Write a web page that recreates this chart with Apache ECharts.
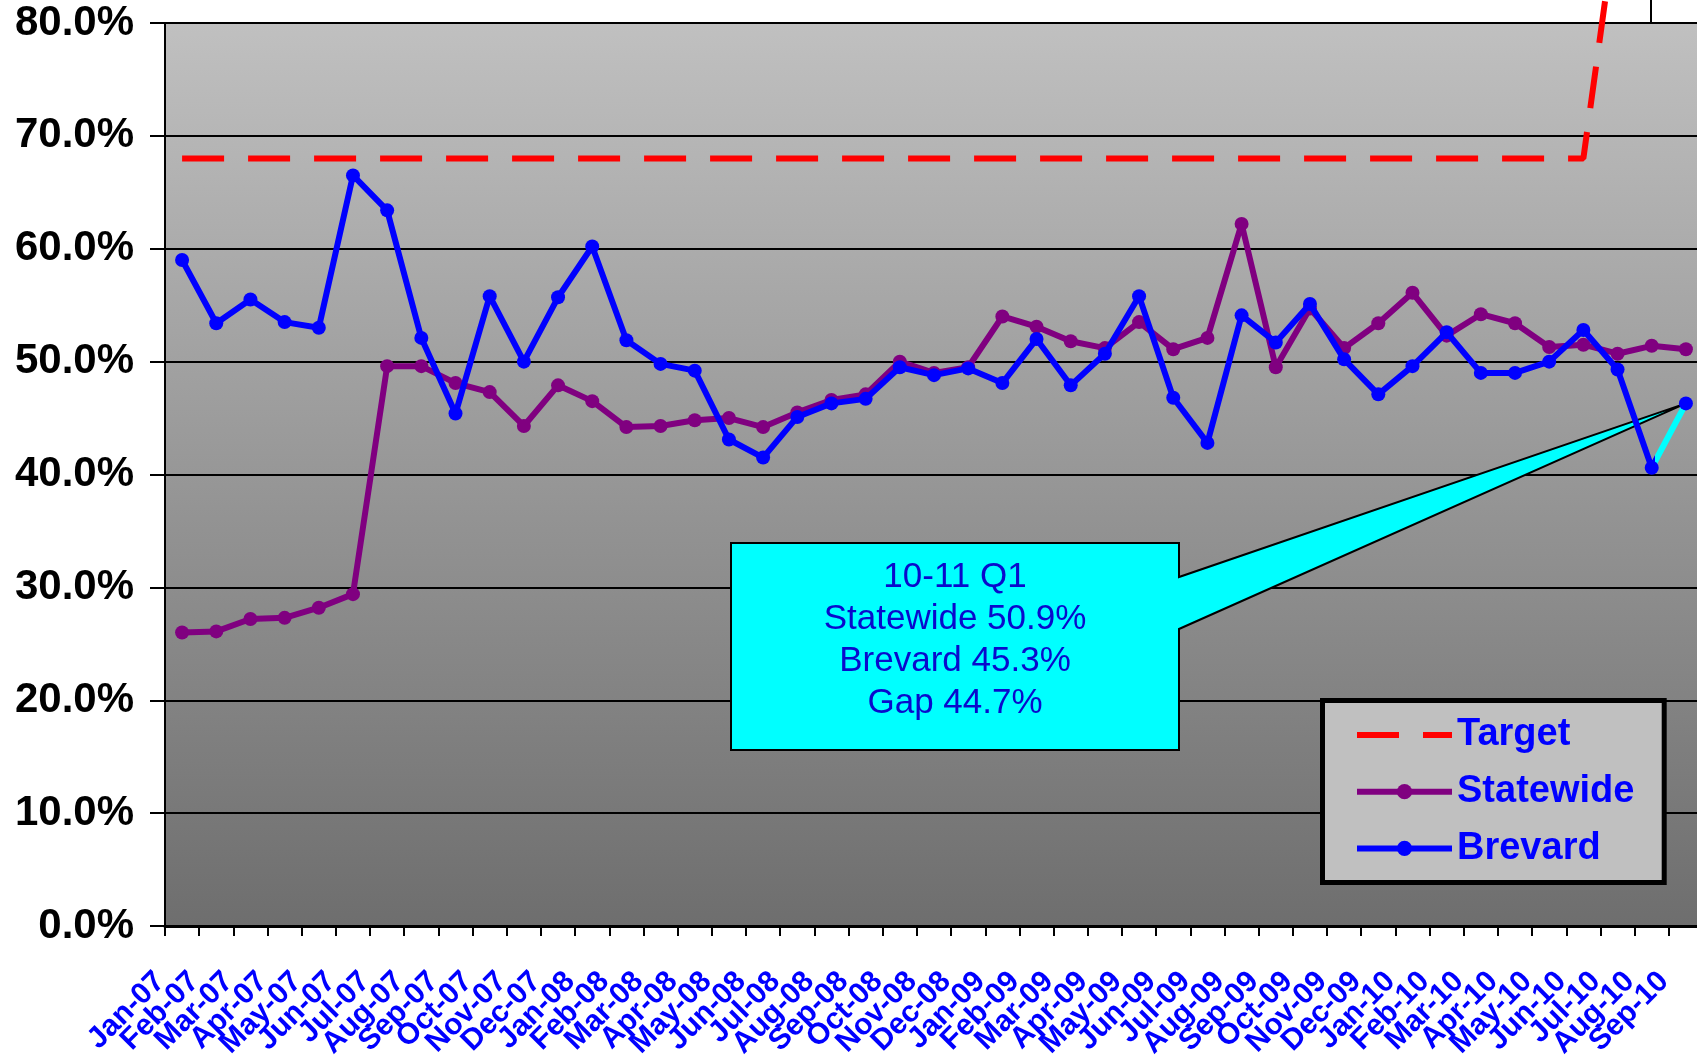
<!DOCTYPE html>
<html>
<head>
<meta charset="utf-8">
<script src="https://cdn.jsdelivr.net/npm/echarts@6/dist/echarts.min.js"></script>
<style>
  html, body { margin: 0; padding: 0; background: #fff; }
  #chart { width: 1697px; height: 1060px; }
</style>
</head>
<body>
<div id="chart"></div>
<script>
// monthly categories
var months = ['Jan-07', 'Feb-07', 'Mar-07', 'Apr-07', 'May-07', 'Jun-07', 'Jul-07', 'Aug-07', 'Sep-07', 'Oct-07', 'Nov-07', 'Dec-07',
  'Jan-08', 'Feb-08', 'Mar-08', 'Apr-08', 'May-08', 'Jun-08', 'Jul-08', 'Aug-08', 'Sep-08', 'Oct-08', 'Nov-08', 'Dec-08',
  'Jan-09', 'Feb-09', 'Mar-09', 'Apr-09', 'May-09', 'Jun-09', 'Jul-09', 'Aug-09', 'Sep-09', 'Oct-09', 'Nov-09', 'Dec-09',
  'Jan-10', 'Feb-10', 'Mar-10', 'Apr-10', 'May-10', 'Jun-10', 'Jul-10', 'Aug-10', 'Sep-10'];

// values in percent
var target = [68, 68, 68, 68, 68, 68, 68, 68, 68, 68, 68, 68,
  68, 68, 68, 68, 68, 68, 68, 68, 68, 68, 68, 68,
  68, 68, 68, 68, 68, 68, 68, 68, 68, 68, 68, 68,
  68, 68, 68, 68, 68, 68, 90, 90, 90];

var statewide = [26.0, 26.1, 27.2, 27.3, 28.2, 29.4, 49.6, 49.6, 48.1, 47.3, 44.3, 47.9,
  46.5, 44.2, 44.3, 44.8, 45.0, 44.2, 45.5, 46.6, 47.1, 50.0, 49.0, 49.5,
  54.0, 53.1, 51.8, 51.2, 53.5, 51.1, 52.1, 62.2, 49.5, 54.7, 51.2, 53.4,
  56.1, 52.3, 54.2, 53.4, 51.3, 51.5, 50.7, 51.4, 51.1];

var brevard = [59.0, 53.4, 55.5, 53.5, 53.0, 66.5, 63.4, 52.1, 45.4, 55.8, 50.0, 55.7,
  60.2, 51.9, 49.8, 49.2, 43.1, 41.5, 45.1, 46.3, 46.7, 49.5, 48.8, 49.4,
  48.1, 52.0, 47.9, 50.7, 55.8, 46.8, 42.8, 54.1, 51.7, 55.1, 50.2, 47.1,
  49.6, 52.6, 49.0, 49.0, 50.0, 52.8, 49.3, 40.6, 46.3];

var yMin = 0, yMax = 80, yStep = 10;

var calloutLines = ['10-11 Q1', 'Statewide 50.9%', 'Brevard 45.3%', 'Gap 44.7%'];

var FONT = 'Liberation Sans, Arial, Helvetica, sans-serif';

var chart = echarts.init(document.getElementById('chart'));

var last = brevard.length - 1;
var cut = (last - 1) / last;   // last segment of Brevard is cyan

var option = {
  animation: false,
  backgroundColor: '#ffffff',
  grid: {
    left: 165, top: 23, right: -6, bottom: 134,
    outerBoundsMode: 'none',
    show: true, borderWidth: 0,
    backgroundColor: new echarts.graphic.LinearGradient(0, 0, 0, 1, [
      { offset: 0, color: '#c0c0c0' },
      { offset: 1, color: '#6e6e6e' }
    ])
  },
  legend: {
    orient: 'vertical',
    left: 1349, top: 710,
    itemWidth: 95, itemHeight: 19, itemGap: 16.7,
    textStyle: { color: '#0000ff', fontWeight: 'bold', fontSize: 38, fontFamily: FONT, lineHeight: 40 },
    data: [
      { name: 'Target', itemStyle: { opacity: 0 }, lineStyle: { width: 6 } },
      { name: 'Statewide', lineStyle: { width: 6 } },
      { name: 'Brevard', lineStyle: { color: '#0000ff', width: 6 } }
    ]
  },
  xAxis: {
    type: 'category',
    data: months,
    boundaryGap: true,
    axisLine: { lineStyle: { color: '#000', width: 3 } },
    axisTick: { show: true, length: 10, lineStyle: { color: '#000', width: 2 } },
    axisLabel: {
      interval: 0, rotate: 45, margin: 29, padding: [0, 31, 0, 0],
      color: '#0000ff', fontWeight: 'bold', fontSize: 30, fontFamily: FONT
    },
    splitLine: { show: false }
  },
  yAxis: {
    type: 'value',
    min: yMin, max: yMax, interval: yStep,
    axisLine: { show: true, lineStyle: { color: '#000', width: 2 } },
    axisTick: { show: true, length: 15, lineStyle: { color: '#000', width: 2 } },
    splitLine: { show: true, lineStyle: { color: '#000', width: 2 } },
    axisLabel: {
      margin: 31,
      color: '#000', fontWeight: 'bold', fontSize: 42, fontFamily: FONT,
      formatter: function (v) { return v.toFixed(1) + '%'; }
    }
  },
  series: [
    {
      name: 'Target', type: 'line', data: target,
      symbol: 'none', clip: false, z: 3,
      lineStyle: { color: '#ff0000', width: 6, type: [42, 24] },
      itemStyle: { color: '#ff0000' }
    },
    {
      name: 'Statewide', type: 'line', data: statewide,
      symbol: 'circle', symbolSize: 14, z: 3,
      lineStyle: { color: '#800080', width: 6 },
      itemStyle: { color: '#800080' }
    },
    {
      name: 'Brevard', type: 'line', data: brevard,
      symbol: 'circle', symbolSize: 14, z: 4,
      lineStyle: {
        width: 6,
        color: new echarts.graphic.LinearGradient(0, 0, 1, 0, [
          { offset: 0, color: '#0000ff' },
          { offset: cut, color: '#0000ff' },
          { offset: cut, color: '#00ffff' },
          { offset: 1, color: '#00ffff' }
        ])
      },
      itemStyle: { color: '#0000ff' }
    }
  ]
};

chart.setOption(option);

// callout box pointing at the last Brevard point
var tip = chart.convertToPixel({ seriesIndex: 2 }, [last, brevard[last]]);
var bx0 = 731, by0 = 543, bx1 = 1179, by1 = 750;

chart.setOption({
  graphic: [
    {
      type: 'polygon', z: 1,
      shape: { points: [[bx0, by0], [bx1, by0], [bx1, 577], tip, [bx1, 629], [bx1, by1], [bx0, by1]] },
      style: { fill: '#00ffff', stroke: '#000', lineWidth: 2 }
    },
    {
      type: 'text', z: 1,
      x: (bx0 + bx1) / 2, y: 556,
      style: {
        text: calloutLines.join('\n'),
        font: '35px ' + FONT, fill: '#0a0acc',
        align: 'center', verticalAlign: 'top', lineHeight: 42
      }
    },
    {
      type: 'rect', z: 3,
      shape: { x: 1322.5, y: 700.5, width: 341.7, height: 182 },
      style: { fill: '#c0c0c0', stroke: '#000', lineWidth: 5 }
    },
    {
      type: 'line', z: 3,
      shape: { x1: 1651, y1: 0, x2: 1651, y2: 23 },
      style: { stroke: '#000', lineWidth: 2 }
    }
  ]
});
</script>
</body>
</html>
